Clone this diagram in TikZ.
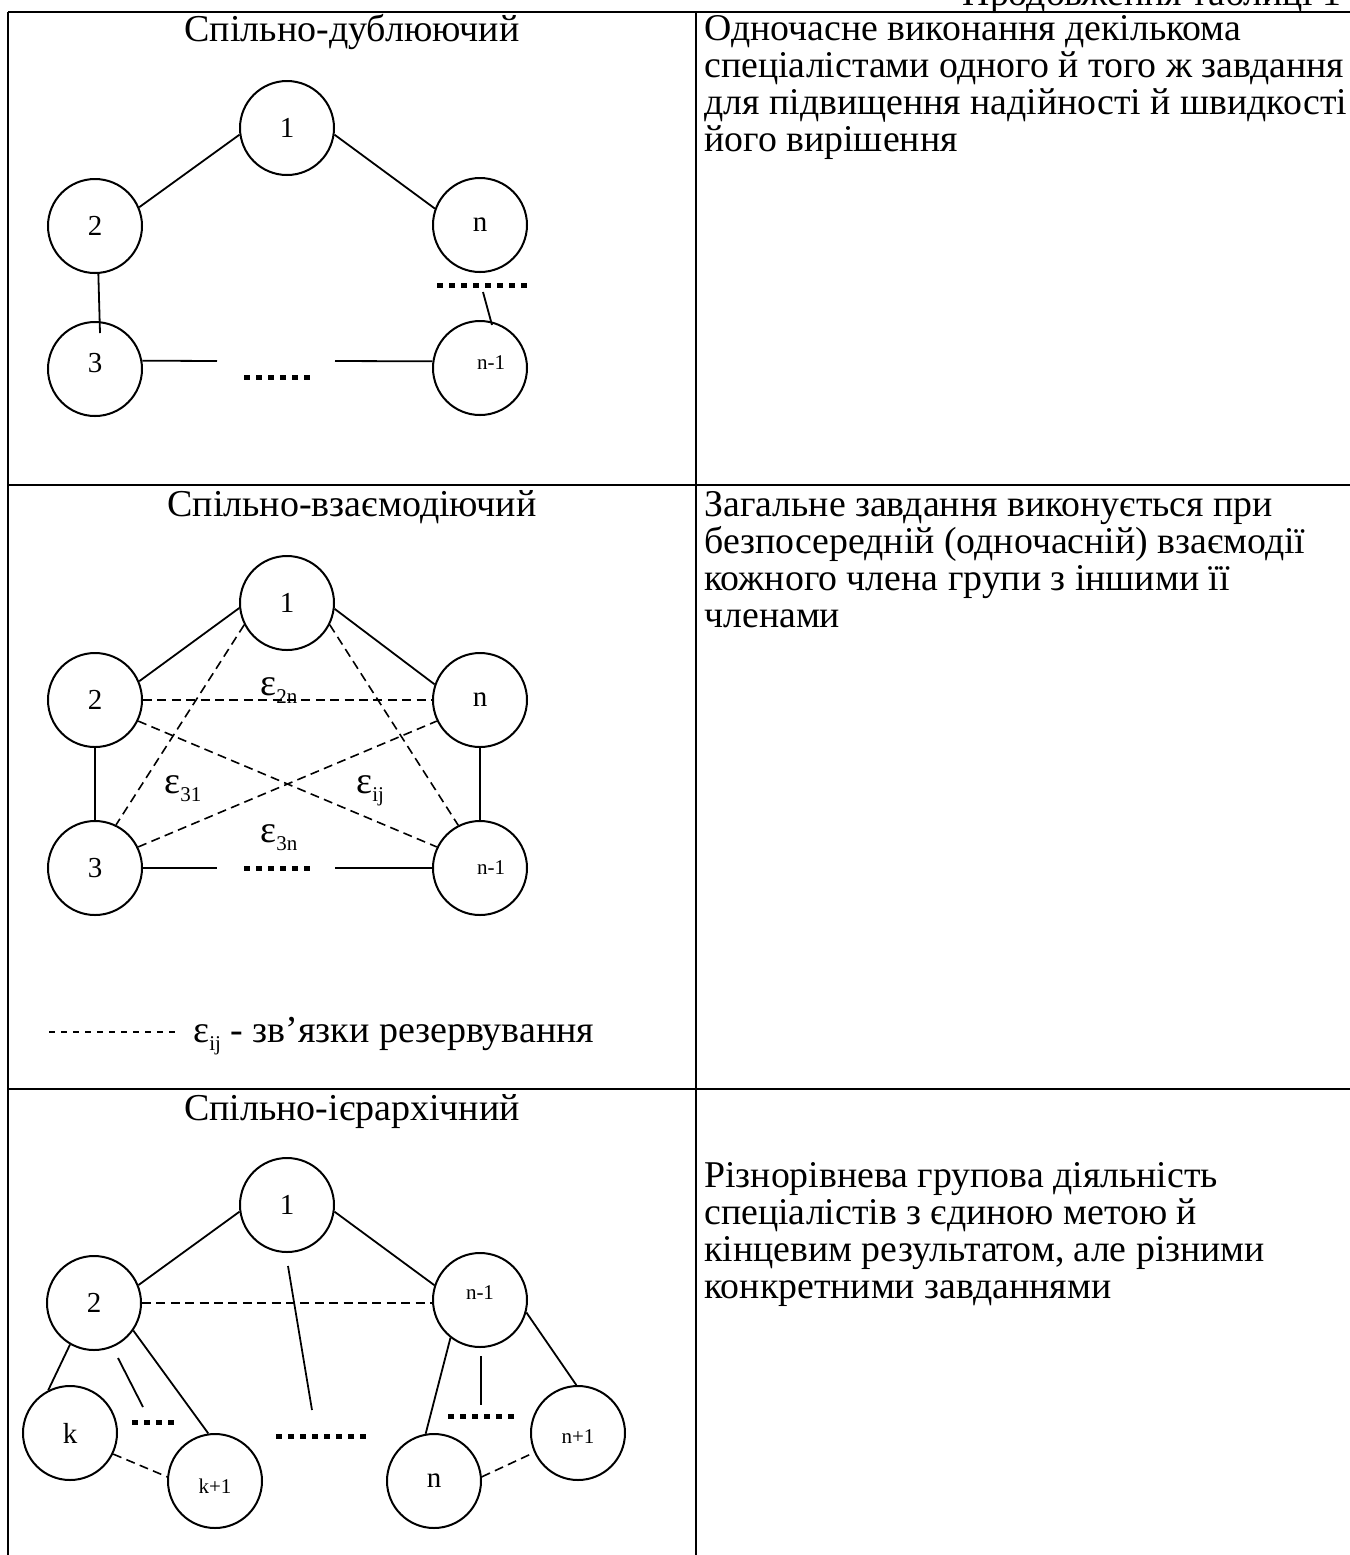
\documentclass[tikz,border=0pt]{standalone}
\usepackage{fontspec}
\setmainfont{Liberation Serif}
\usetikzlibrary{calc}
\newcommand{\epsub}[1]{ε\raisebox{-4pt}{\fontsize{10.5}{10.5}\selectfont #1}}
\begin{document}
\begin{tikzpicture}[x=0.5pt,y=-0.5pt,
  vtx/.style={circle,draw,line width=1pt,minimum size=47pt,inner sep=0pt},
  big/.style={font=\fontsize{14.5}{14.5}\selectfont},
  small/.style={font=\fontsize{10.5}{10.5}\selectfont},
  conn/.style={line width=0.9pt},
  dconn/.style={line width=0.8pt,dash pattern=on 4.5pt off 2.7pt},
  dotsq/.style={line width=2.5pt,dash pattern=on 3pt off 3pt},
  grid/.style={line width=1pt},
  txt/.style={anchor=base west,inner sep=0pt,font=\fontsize{18.9}{18.9}\selectfont},
  ttl/.style={anchor=base,inner sep=0pt,font=\fontsize{19}{19}\selectfont},
  eps/.style={anchor=base west,inner sep=0pt,font=\fontsize{19}{19}\selectfont},
]
\useasboundingbox (0,0) rectangle (1350,1555);
% table
\draw[grid] (8,12) -- (1350,12);
\draw[grid] (8,12) -- (8,1555);
\draw[grid] (696,12) -- (696,1555);
\draw[grid] (8,485) -- (1350,485);
\draw[grid] (8,1089) -- (1350,1089);
\node[txt,anchor=base east] (hdr) at (1342,5) {Продовження таблиці 1};

% row 1
\node[ttl] (t1) at (352,41) {Спільно-дублюючий};
\node[vtx,big] (a1) at (287,128) {1};
\node[vtx,big] (a2) at (95,226) {2};
\node[vtx,big] (an) at (480,225) {n};
\node[vtx,label={[big,yshift=3pt]center:3}] (a3) at (95,369) {};
\node[vtx,label={[small,xshift=5.5pt,yshift=2.5pt]center:n-1}] (am) at (480,368) {};
\draw[conn] (a1.188) -- (a2.23);
\draw[conn] (a1.352) -- (an.160);
\draw[conn] (a2.274) -- ($(a3.center)+(5,-36)$);
\draw[dotsq] (437,285) -- (527,285);
\coordinate (adt) at (483,292);
\draw[conn] (adt) -- ($(am.center)+(12,-43)$);
\coordinate (aL) at (217,361);
\coordinate (aR) at (335,361);
\draw[conn] (a3.10) -- (aL);
\draw[conn] (aR) -- (am.172);
\draw[dotsq] (244,377) -- (310,377);
\node[txt] (r1a) at (704,40) {Одночасне виконання декількома};
\node[txt] (r1b) at (704,77) {спеціалістами одного й того ж завдання};
\node[txt] (r1c) at (704,114) {для підвищення надійності й швидкості};
\node[txt] (r1d) at (704,151) {його вирішення};

% row 2
\node[ttl] (t2) at (352,516) {Спільно-взаємодіючий};
\node[vtx,big] (b1) at (287,603) {1};
\node[vtx,big] (b2) at (95,700) {2};
\node[vtx,big] (bn) at (480,700) {n};
\node[vtx,big] (b3) at (95,868) {3};
\node[vtx,label={[small,xshift=5.5pt]center:n-1}] (bm) at (480,868) {};
\draw[conn] (b1.186) -- (b2.23);
\draw[conn] (b1.353) -- (bn.161);
\draw[conn] (b2.south) -- (b3.north);
\draw[conn] (bn.south) -- (bm.north);
\draw[dconn] (b2.east) -- (bn.west);
\draw[dconn] (b1.207) -- (b3.64);
\draw[dconn] (b1.333) -- (bm.117);
\draw[dconn] (b2.334) -- (bm.154);
\draw[dconn] (b3.26) -- (bn.206);
\coordinate (bL) at (217,868);
\coordinate (bR) at (335,868);
\draw[conn] (b3.east) -- (bL);
\draw[conn] (bR) -- (bm.west);
\draw[dotsq] (244,868) -- (310,868);
\node[eps] (e2n) at (260,695) {\epsub{2n}};
\node[eps] (e31) at (164,793) {\epsub{31}};
\node[eps] (eij) at (356,793) {\epsub{ij}};
\node[eps] (e3n) at (260,842) {\epsub{3n}};
\coordinate (lg1) at (49,1032);
\coordinate (lg2) at (175,1032);
\draw[line width=0.8pt,dash pattern=on 3pt off 3pt] (lg1) -- (lg2);
\node[eps] (lgt) at (193,1042) {\epsub{ij} - зв’язки резервування};
\node[txt] (r2a) at (704,516) {Загальне завдання виконується при};
\node[txt] (r2b) at (704,553) {безпосередній (одночасній) взаємодії};
\node[txt] (r2c) at (704,590) {кожного члена групи з іншими її};
\node[txt] (r2d) at (704,627) {членами};

% row 3
\node[ttl] (t3) at (352,1120) {Спільно-ієрархічний};
\node[vtx,big] (c1) at (287,1205) {1};
\node[vtx,big] (c2) at (94,1303) {2};
\node[vtx,label={[small,yshift=3.5pt]center:n-1}] (cm) at (480,1300) {};
\node[vtx,big] (ck) at (70,1433) {k};
\node[vtx,label={[small,yshift=-2.5pt]center:k+1}] (ckp) at (215,1481) {};
\node[vtx,big] (cn) at (434,1481) {n};
\node[vtx,label={[small,yshift=-2pt]center:n+1}] (cnp) at (578,1433) {};
\draw[conn] (c1.188) -- (c2.22);
\draw[conn] (c1.352) -- (cm.162);
\draw[dconn] (c2.east) -- (c2.east -| cm.west);
\coordinate (cv1) at (288,1266);
\coordinate (cv2) at (312,1410);
\draw[conn] (cv1) -- (cv2);
\draw[dotsq] (276,1436) -- (366,1436);
\draw[conn] (c2.240) -- (ck.117);
\coordinate (cw1) at (118,1358);
\coordinate (cw2) at (143,1407);
\draw[conn] (cw1) -- (cw2);
\draw[conn] (c2.325) -- (ckp.98);
\draw[dotsq] (132,1422) -- (174,1422);
\draw[dconn] (ck.334) -- (ckp.175);
\draw[conn] (cm.232) -- (cn.100);
\coordinate (cx1) at (481,1356);
\coordinate (cx2) at (481,1405);
\draw[conn] (cx1) -- (cx2);
\draw[dotsq] (448,1416) -- (514,1416);
\draw[conn] (cm.345) -- (cnp.92);
\draw[dconn] (cn.5) -- (cnp.204);
\node[txt] (r3a) at (704,1187) {Різнорівнева групова діяльність};
\node[txt] (r3b) at (704,1224) {спеціалістів з єдиною метою й};
\node[txt] (r3c) at (704,1261) {кінцевим результатом, але різними};
\node[txt] (r3d) at (704,1298) {конкретними завданнями};
\end{tikzpicture}
\end{document}
